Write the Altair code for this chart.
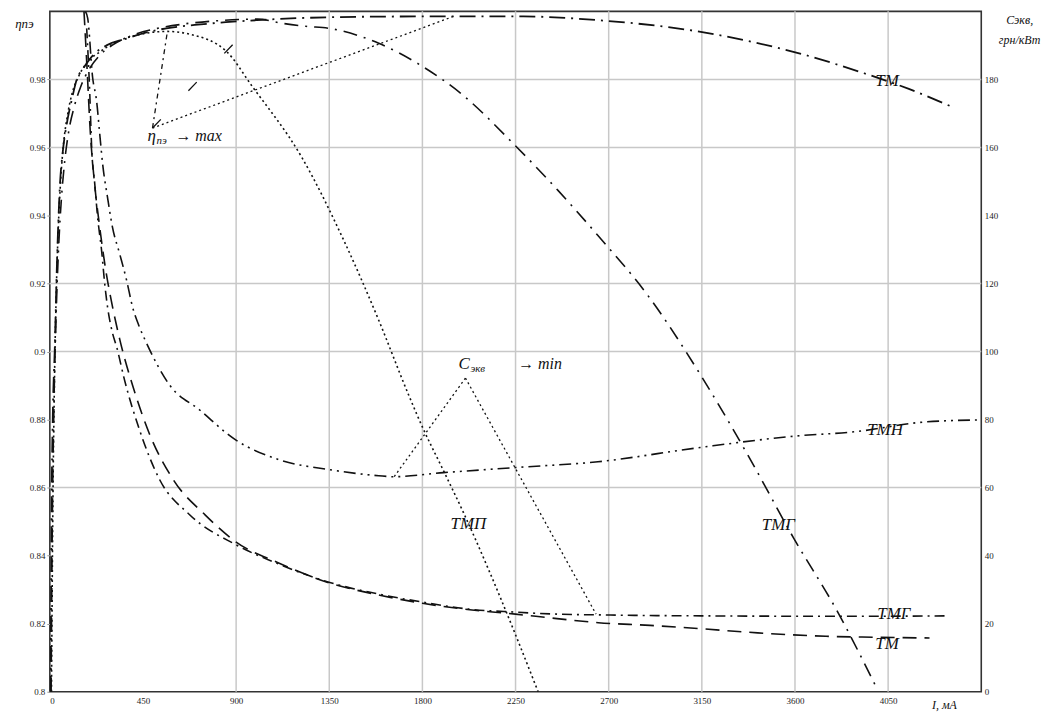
import altair as alt
import pandas as pd

# ---------------- axis ticks / grid ----------------
x_ticks = [0, 450, 900, 1350, 1800, 2250, 2700, 3150, 3600, 4050]
x_grid = [900, 1350, 1800, 2250, 2700, 3150, 3600, 4050]
eta_ticks = [0.8, 0.82, 0.84, 0.86, 0.88, 0.9, 0.92, 0.94, 0.96, 0.98]
eta_grid = [0.86, 0.9, 0.92, 0.96, 0.98]
c_ticks = [0, 20, 40, 60, 80, 100, 120, 140, 160, 180]

# ---------------- efficiency curves (left axis) ----------------
tm_eff_x = [4, 8, 14, 24, 34, 48, 63, 82, 106, 130, 159, 207, 274, 371, 481, 563, 700, 850, 1000,
            1200, 1500, 1800, 1950, 2287, 2648, 3130, 3635, 3934, 4150, 4348]
tm_eff_y = [0.80, 0.85, 0.88, 0.901, 0.925, 0.948, 0.959, 0.967, 0.974, 0.980, 0.983, 0.987, 0.990,
            0.992, 0.994, 0.995, 0.9960, 0.9968, 0.9974, 0.9980, 0.9984, 0.9985, 0.9985, 0.9985,
            0.9974, 0.9941, 0.9874, 0.9818, 0.9772, 0.9722]

tmp_eff_x = [8, 14, 22, 30, 40, 52, 66, 84, 108, 140, 180, 240, 320, 420, 568, 674, 852, 977, 1218,
             1420, 1589, 1733, 1806, 1892, 1998, 2119, 2239, 2359]
tmp_eff_y = [0.80, 0.85, 0.89, 0.915, 0.935, 0.95, 0.961, 0.969, 0.976, 0.981, 0.985, 0.988, 0.991,
             0.993, 0.9941, 0.9933, 0.9883, 0.978, 0.957, 0.9327, 0.9092, 0.8873, 0.877, 0.8662,
             0.8527, 0.836, 0.8184, 0.80]

tmg_eff_x = [6, 12, 20, 30, 42, 56, 72, 92, 118, 150, 190, 240, 300, 400, 520, 650, 800, 1002, 1122,
             1237, 1348, 1589, 1782, 1989, 2249, 2456, 2648, 2889, 3144, 3371, 3597, 3804, 3996]
tmg_eff_y = [0.80, 0.85, 0.885, 0.91, 0.93, 0.945, 0.956, 0.965, 0.972, 0.978, 0.983, 0.987, 0.990,
             0.993, 0.995, 0.9963, 0.9972, 0.9977, 0.9965, 0.9956, 0.995, 0.9906, 0.9845, 0.9757,
             0.9605, 0.9473, 0.9341, 0.9165, 0.8931, 0.8697, 0.8448, 0.8237, 0.8009]

# ---------------- cost curves (right axis) ----------------
tmn_c_x = [172, 183, 207, 226, 241, 255, 279, 303, 337, 371, 400, 433, 467, 578, 722, 896, 1107,
           1348, 1589, 1661, 1902, 2249, 2648, 3130, 3611, 3886, 4228, 4492]
tmn_c_y = [200, 197.9, 180.4, 173.6, 164, 155.2, 145.2, 136.4, 128.8, 120.9, 113, 107.2, 102.5,
           90.2, 82.9, 74.1, 68.2, 65.3, 63.5, 63.2, 64.4, 65.9, 67.6, 71.7, 75.2, 76.4, 79.3, 79.9]

tmg_c_x = [178, 193, 202, 217, 231, 250, 265, 279, 303, 323, 361, 433, 530, 674, 896, 1107, 1348,
           1589, 1796, 2022, 2249, 2456, 2639, 2900, 3150, 3600, 4000, 4330]
tmg_c_y = [195, 175.7, 159.9, 149.3, 139.4, 129.7, 120, 113, 105.4, 101.3, 91.6, 77, 62.4, 52.1,
           43.3, 37.5, 32.2, 28.7, 26.4, 24.3, 23.4, 22.8, 22.6, 22.4, 22.3, 22.2, 22.2, 22.3]

tm_c_x = [165, 180, 195, 215, 240, 270, 300, 340, 400, 480, 600, 750, 900, 1100, 1350, 1600, 1800,
          2000, 2250, 2450, 2650, 2900, 3150, 3420, 3750, 4000, 4250]
tm_c_y = [200, 183, 165, 150, 137, 124, 114, 103, 90, 76, 62, 52, 44, 38, 32, 28.3, 26, 24.3,
          22.8, 21.5, 20.3, 19.5, 18.5, 17.3, 16.3, 16.0, 15.8]

# ---------------- annotations ----------------
max_anchor = (496, 0.9657)
max_targets_x = [568, 1002, 1950]          # ТМП, ТМГ, ТМ maxima
max_targets_y = [0.9941, 0.9977, 0.9985]
min_anchor = (2008, 92.2)
min_targets_x = [1661, 2639]               # ТМН, ТМГ minima
min_targets_y = [63.0, 22.8]

eff_labels = ["ТМ", "ТМП", "ТМГ"]
eff_label_x = [4045, 2022, 3520]
eff_label_y = [0.9795, 0.8492, 0.849]
cost_labels = ["ТМН", "ТМГ", "ТМ"]
cost_label_x = [4035, 4078, 4045]
cost_label_y = [77.0, 22.8, 14.1]

# ---------------- chart ----------------
SERIF = "Liberation Serif"
INK = "#111111"
W, H = 935, 683

xs = alt.Scale(domain=[0, 4500], nice=False, zero=False)
ys_l = alt.Scale(domain=[0.8, 1.0], nice=False, zero=False)
ys_r = alt.Scale(domain=[0, 200], nice=False, zero=False)

x_axis = alt.Axis(values=x_ticks, format="d", grid=False, ticks=False, domain=False,
                  labelFont=SERIF, labelFontSize=9, labelColor="#222", labelPadding=5,
                  title="I, мА", titleFont=SERIF, titleFontStyle="italic",
                  titleFontWeight="normal", titleFontSize=12, titleX=885, titleY=13,
                  titleAlign="left", titleBaseline="middle", titleColor=INK)

left_axis = alt.Axis(values=eta_ticks, labelExpr="format(datum.value, '.2~f')", grid=False,
                     ticks=True, tickSize=3, tickColor="#999", domain=False, labelFont=SERIF,
                     labelFontSize=9, labelColor="#222", labelPadding=2, title="ηпэ",
                     titleFont=SERIF, titleFontStyle="italic", titleFontWeight="normal",
                     titleFontSize=13, titleAngle=0, titleX=-26, titleY=12, titleAlign="center",
                     titleBaseline="middle", titleColor=INK, orient="left")

right_axis = alt.Axis(values=c_ticks, orient="right", grid=False, ticks=False, domain=False,
                      labelFont=SERIF, labelFontSize=9, labelColor="#222", labelPadding=3,
                      title=["Cэкв,", "грн/кВт"], titleFont=SERIF, titleFontStyle="italic",
                      titleFontWeight="normal", titleFontSize=12, titleAngle=0, titleX=38,
                      titleY=8, titleAlign="center", titleBaseline="middle", titleColor=INK,
                      titleLineHeight=20)

XQ = alt.X("I:Q", scale=xs, axis=x_axis)


def YL(field="v:Q"):
    return alt.Y(field, scale=ys_l, axis=left_axis)


def YR(field="v:Q"):
    return alt.Y(field, scale=ys_r, axis=right_axis)


def series(xv, yv, dash, yenc, width=1.6):
    df = pd.DataFrame({"I": xv, "v": yv})
    return alt.Chart(df).mark_line(strokeDash=dash, color=INK, strokeWidth=width,
                                   interpolate="monotone", clip=True).encode(x=XQ, y=yenc)


# grid
vgrid = alt.Chart(pd.DataFrame({"I": x_grid})).mark_rule(color="#c8c8c8", strokeWidth=1.5).encode(
    x=XQ)
hgrid = alt.Chart(pd.DataFrame({"v": eta_grid})).mark_rule(color="#c8c8c8", strokeWidth=1.5).encode(
    y=YL())

tm_eff = series(tm_eff_x, tm_eff_y, [16, 6, 2, 6], YL(), 1.8)
tmp_eff = series(tmp_eff_x, tmp_eff_y, [2, 3], YL(), 1.6)
tmg_eff = series(tmg_eff_x, tmg_eff_y, [14, 7, 2, 7], YL(), 1.6)

max_df = pd.DataFrame({"I": [max_anchor[0]] * 3, "v": [max_anchor[1]] * 3,
                       "I2": max_targets_x, "v2": max_targets_y})


def leader(df, row, dash, yenc):
    return alt.Chart(df.iloc[[row]]).mark_rule(color=INK, strokeWidth=1.3, strokeDash=dash).encode(
        x=XQ, x2="I2:Q", y=yenc, y2="v2:Q")


lead_max = alt.layer(leader(max_df, 0, [5, 4, 2, 4], YL()),
                     leader(max_df, 1, [12, 40], YL()),
                     leader(max_df, 2, [2, 3], YL()))

LABEL_SIZE = 17
eff_lab_df = pd.DataFrame({"I": eff_label_x, "v": eff_label_y, "t": eff_labels})
eff_text = alt.Chart(eff_lab_df).mark_text(font=SERIF, fontStyle="italic", fontSize=LABEL_SIZE,
                                           color=INK, align="center", baseline="middle").encode(
    x=XQ, y=YL(), text="t:N")

max_txt_df = pd.DataFrame({"I": [472], "v": [0.9634]})
max_base = alt.Chart(max_txt_df).encode(x=XQ, y=YL())
max_text = alt.layer(
    max_base.mark_text(text="η", font=SERIF, fontStyle="italic", fontSize=17, color=INK,
                       align="left", baseline="middle"),
    max_base.mark_text(text="пэ", font=SERIF, fontStyle="italic", fontSize=11, color=INK,
                       align="left", baseline="middle", dx=9, dy=5),
    max_base.mark_text(text="→ max", font=SERIF, fontStyle="italic", fontSize=16, color=INK,
                       align="left", baseline="middle", dx=28),
)

left = alt.layer(vgrid, hgrid, tm_eff, tmp_eff, tmg_eff, lead_max, eff_text, max_text)

# right group
tmn_c = series(tmn_c_x, tmn_c_y, [12, 5, 2, 5, 2, 5], YR(), 1.6)
tmg_c = series(tmg_c_x, tmg_c_y, [10, 5, 2, 5], YR(), 1.6)
tm_c = series(tm_c_x, tm_c_y, [14, 8], YR(), 1.6)

min_df = pd.DataFrame({"I": [min_anchor[0]] * 2, "v": [min_anchor[1]] * 2,
                       "I2": min_targets_x, "v2": min_targets_y})
lead_min = alt.layer(leader(min_df, 0, [2, 3], YR()), leader(min_df, 1, [2, 3], YR()))

cost_lab_df = pd.DataFrame({"I": cost_label_x, "v": cost_label_y, "t": cost_labels})
cost_text = alt.Chart(cost_lab_df).mark_text(font=SERIF, fontStyle="italic", fontSize=LABEL_SIZE,
                                             color=INK, align="center", baseline="middle").encode(
    x=XQ, y=YR(), text="t:N")

min_txt_df = pd.DataFrame({"I": [1974], "v": [96.3]})
min_base = alt.Chart(min_txt_df).encode(x=XQ, y=YR())
min_text = alt.layer(
    min_base.mark_text(text="C", font=SERIF, fontStyle="italic", fontSize=17, color=INK,
                       align="left", baseline="middle"),
    min_base.mark_text(text="экв", font=SERIF, fontStyle="italic", fontSize=11, color=INK,
                       align="left", baseline="middle", dx=12, dy=5),
    min_base.mark_text(text="→ min", font=SERIF, fontStyle="italic", fontSize=16, color=INK,
                       align="left", baseline="middle", dx=60),
)

right = alt.layer(tmn_c, tmg_c, tm_c, lead_min, cost_text, min_text)

chart = alt.layer(left, right).resolve_scale(y="independent").properties(
    width=W, height=H,
    background="white",
    autosize=alt.AutoSizeParams(type="none"),
    padding={"left": 42, "top": 2, "right": 70, "bottom": 20},
).configure_view(stroke="#333333", strokeWidth=1.6)

chart.save("out.html", embed_options={"renderer": "svg", "actions": False})
